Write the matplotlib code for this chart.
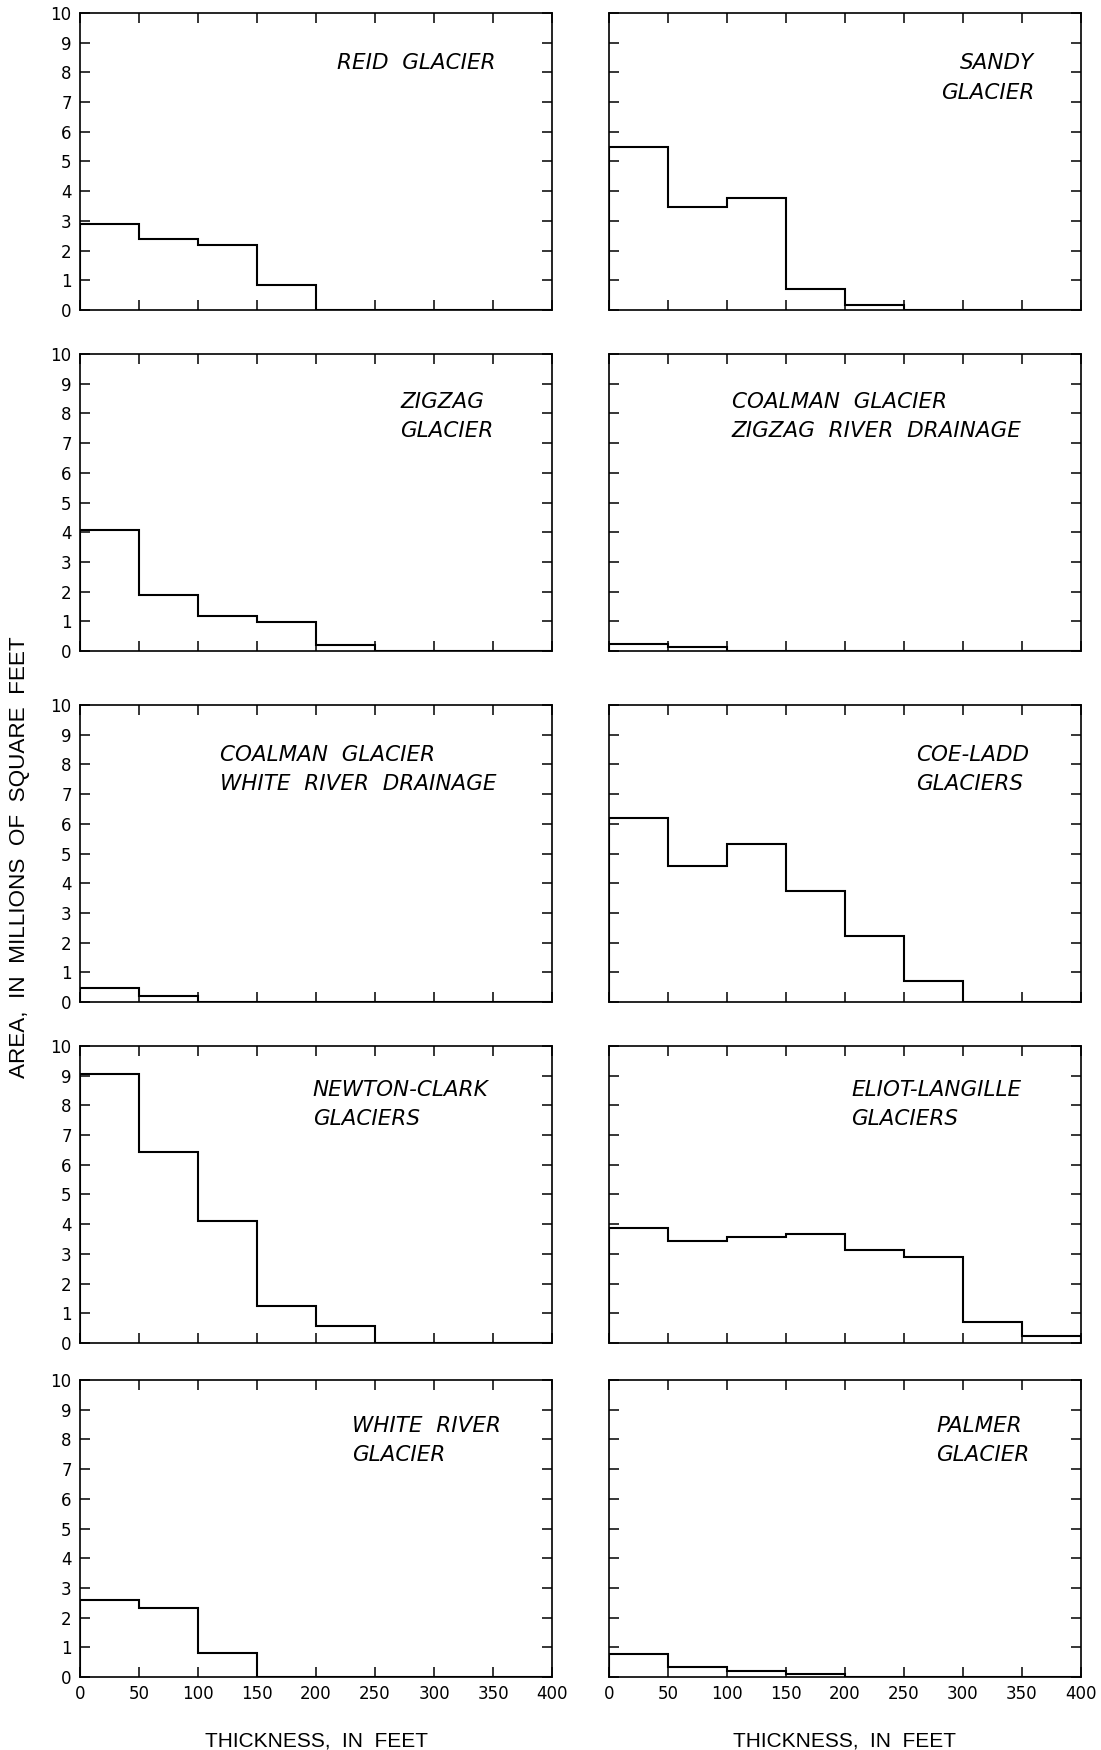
import numpy as np
import matplotlib
matplotlib.use("Agg")
import matplotlib.pyplot as plt

# thickness bins (feet)
edges = [0, 50, 100, 150, 200, 250, 300, 350, 400]

# area per bin, millions of square feet
reid = [2.88, 2.40, 2.18, 0.84, 0, 0, 0, 0]
sandy = [5.47, 3.47, 3.76, 0.72, 0.18, 0, 0, 0]
zigzag = [4.07, 1.89, 1.19, 0.99, 0.21, 0, 0, 0]
coalman_zigzag = [0.22, 0.13, 0, 0, 0, 0, 0, 0]
coalman_white = [0.48, 0.20, 0, 0, 0, 0, 0, 0]
coe_ladd = [6.20, 4.59, 5.33, 3.75, 2.24, 0.72, 0, 0]
newton_clark = [9.07, 6.42, 4.10, 1.23, 0.56, 0, 0, 0]
eliot_langille = [3.86, 3.44, 3.58, 3.67, 3.12, 2.91, 0.72, 0.24]
white_river = [2.60, 2.32, 0.80, 0, 0, 0, 0, 0]
palmer = [0.79, 0.34, 0.21, 0.09, 0, 0, 0, 0]

panels = [
    (reid, "REID  GLACIER", 0.545, 0.83, "left"),
    (sandy, "SANDY\nGLACIER", 0.901, 0.78, "right"),
    (zigzag, "ZIGZAG\nGLACIER", 0.678, 0.789, "left"),
    (coalman_zigzag, "COALMAN  GLACIER\nZIGZAG  RIVER  DRAINAGE", 0.26, 0.789, "left"),
    (coalman_white, "COALMAN  GLACIER\nWHITE  RIVER  DRAINAGE", 0.296, 0.783, "left"),
    (coe_ladd, "COE-LADD\nGLACIERS", 0.65, 0.783, "left"),
    (newton_clark, "NEWTON-CLARK\nGLACIERS", 0.493, 0.803, "left"),
    (eliot_langille, "ELIOT-LANGILLE\nGLACIERS", 0.513, 0.803, "left"),
    (white_river, "WHITE  RIVER\nGLACIER", 0.576, 0.796, "left"),
    (palmer, "PALMER\nGLACIER", 0.693, 0.796, "left"),
]

tick_font = ["Liberation Sans Narrow", "DejaVu Sans"]
label_font = ["Liberation Sans", "DejaVu Sans"]

fig = plt.figure(figsize=(11.01, 17.5), dpi=100)

lefts = [0.0727, 0.5531]
bottoms = [0.8229, 0.628, 0.4274, 0.2326, 0.0417]
w, h = 0.4287, 0.1697

for i, (vals, name, tx, ty, ha) in enumerate(panels):
    row, col = divmod(i, 2)
    ax = fig.add_axes([lefts[col], bottoms[row], w, h])
    ax.stairs(vals, edges, color="black", lw=1.5, baseline=0)
    ax.set_xlim(0, 400)
    ax.set_ylim(0, 10)
    ax.set_xticks(edges)
    ax.set_yticks(range(0, 11))
    ax.tick_params(direction="in", length=7, width=1.1, top=True, right=True,
                   labelsize=12, pad=6)
    for s in ax.spines.values():
        s.set_linewidth(1.2)
    for lab in ax.get_xticklabels() + ax.get_yticklabels():
        lab.set_family(tick_font)
    if col == 1:
        ax.tick_params(labelleft=False)
    if row < 4:
        ax.tick_params(labelbottom=False)
    else:
        ax.set_xlabel("THICKNESS,  IN  FEET", fontsize=15, labelpad=20,
                      family=label_font)
    ax.text(tx, ty, name, transform=ax.transAxes, ha=ha, va="center",
            multialignment=ha, fontsize=15.5, style="oblique", family="DejaVu Sans",
            color="black", linespacing=1.6)

fig.text(0.018, 0.51, "AREA,  IN  MILLIONS  OF  SQUARE  FEET", rotation=90,
         ha="center", va="center", fontsize=16.2, family=label_font)

fig.savefig("out.png", dpi=100, facecolor="white")
